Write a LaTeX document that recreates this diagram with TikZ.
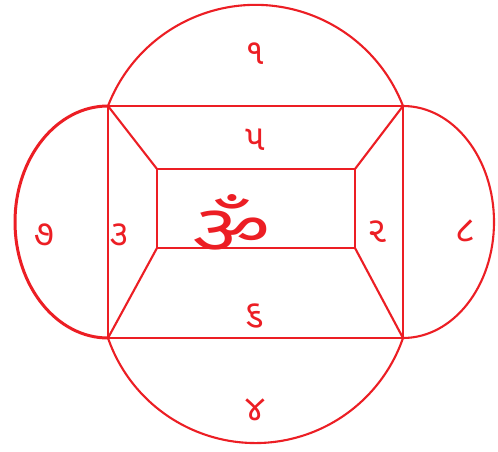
\documentclass[tikz,border=0pt]{standalone}
\usepackage{fontspec}
\newfontfamily\guj[Script=Gujarati]{Noto Sans Gujarati UI}
\definecolor{inkred}{RGB}{236,30,36}
\begin{document}
\begin{tikzpicture}[x=1pt,y=1pt,
  ln/.style={draw=inkred,line width=2.1pt,line join=round,line cap=round},
  thick ln/.style={draw=inkred,line width=3pt,line cap=round},
  num/.style={text=inkred,font=\guj\fontsize{36}{36}\selectfont,inner sep=0pt},
  om/.style={text=inkred,font=\guj\fontsize{64}{64}\selectfont,inner sep=0pt,xscale=1.35}]
\useasboundingbox[fill=white] (0,0) rectangle (498,451);
% outer rectangle corners
\coordinate (TL) at (108,345);
\coordinate (TR) at (403,345);
\coordinate (BL) at (108,113);
\coordinate (BR) at (403,113);
% inner rectangle corners
\coordinate (tl) at (157,282);
\coordinate (tr) at (355,282);
\coordinate (bl) at (157,203);
\coordinate (br) at (355,203);
% rectangles and diagonals
\draw[ln] (TL) -- (TR) -- (BR) -- (BL) -- cycle;
\draw[ln] (tl) -- (tr) -- (br) -- (bl) -- cycle;
\draw[ln] (TL) -- (tl);
\draw[ln] (TR) -- (tr);
\draw[ln] (BL) -- (bl);
\draw[ln] (BR) -- (br);
% top and bottom circular arcs
\draw[ln] (TL) arc[start angle=158.87,end angle=21.13,radius=158.13];
\draw[ln] (BL) arc[start angle=199.1,end angle=340.9,radius=156.1];
% side half-ellipses
\draw[thick ln] (TL) arc[start angle=90,end angle=270,x radius=93,y radius=116];
\draw[ln] (TR) arc[start angle=90,end angle=-90,x radius=91,y radius=116];
% labels
\node[num] (n1) at (255,397) {૧};
\node[num] (n5) at (255,311) {૫};
\node[om]  (om) at (232,229) {ૐ};
\node[num] (n3) at (119,216) {૩};
\node[num] (n7) at (44,216) {૭};
\node[num] (n2) at (377,219) {૨};
\node[num] (n8) at (465,220) {૮};
\node[num] (n6) at (254,135) {૬};
\node[num] (n4) at (255,41) {૪};
\end{tikzpicture}
\end{document}
